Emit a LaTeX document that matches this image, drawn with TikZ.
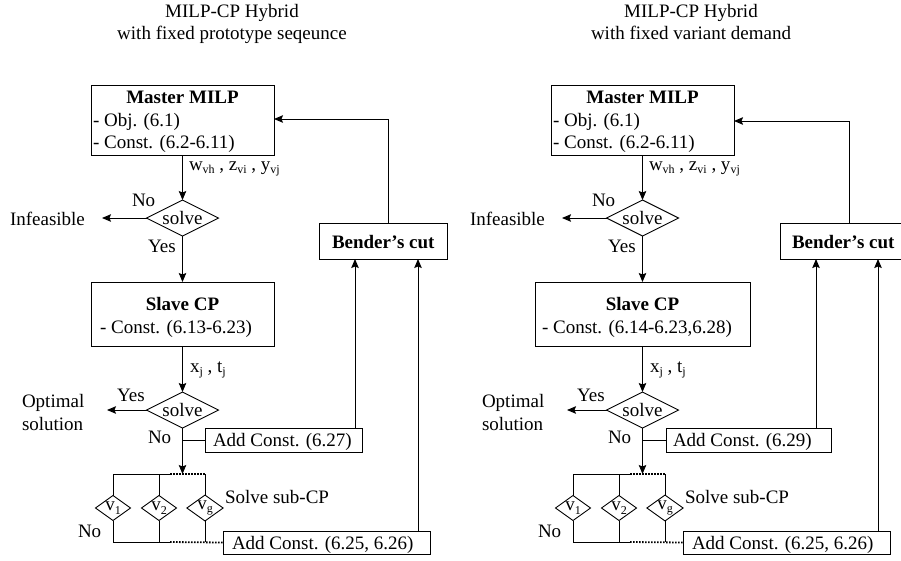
\documentclass[tikz,border=0pt]{standalone}
\usepackage{fontspec}
\setmainfont{Liberation Serif}
\usetikzlibrary{shapes.geometric,arrows.meta}
\newcommand\ff{\fontsize{19}{22}\selectfont}
\newcommand\subtx[1]{\raisebox{-3.5pt}{\fontsize{12}{12}\selectfont #1}}
\tikzset{
  bx/.style={draw, line width=0.9pt, inner sep=0pt, outer sep=0pt},
  dia/.style={draw, diamond, shape aspect=2, line width=0.9pt, inner sep=0pt, outer sep=0pt, minimum width=72pt, minimum height=36pt, font=\ff},
  sdia/.style={draw, diamond, shape aspect=1.4, line width=0.9pt, inner sep=0pt, outer sep=0pt, minimum width=35pt, minimum height=25pt, font=\ff},
  arr/.style={-{Stealth[length=9pt,width=7.5pt,inset=1.5pt]}, line width=0.9pt},
  ln/.style={line width=0.9pt},
  dt/.style={line width=1.8pt, dash pattern=on 1.6pt off 1.4pt},
  txt/.style={inner sep=0pt, outer sep=0pt, font=\ff},
  bold/.style={inner sep=0pt, outer sep=0pt, font=\ff\bfseries}
}
\begin{document}
\begin{tikzpicture}[x=1pt,y=-1pt]
\useasboundingbox (0,0) rectangle (901,560);
\clip (0,0) rectangle (901,560);
\fill[white] (0,0) rectangle (901,560);

% ================= LEFT PANEL =================
\node[txt, anchor=base] (t1L) at (232,17) {MILP-CP Hybrid};
\node[txt, anchor=base] (t2L) at (232,39) {with fixed prototype seqeunce};

\node[bx, minimum width=183pt, minimum height=70pt] (mL) at (182.5,120) {};
\node[bold, anchor=base] (mLa) at (182.5,103) {Master MILP};
\node[txt, anchor=base west] (mLb) at (93,126) {- Obj. (6.1)};
\node[txt, anchor=base west] (mLc) at (93,148) {- Const. (6.2-6.11)};

\node[dia] (d1L) at (182.5,218) {solve};
\draw[arr] (mL.south) -- (d1L.north);
\node[txt, anchor=base west] (wL) at (189,170) {w\subtx{vh} , z\subtx{vi} , y\subtx{vj}};
\node[txt, anchor=base west] (no1L) at (132,206) {No};
\node[txt, anchor=base west] (infL) at (10,225) {Infeasible};
\coordinate (ieL) at (102,218);
\draw[arr] (d1L.west) -- (ieL);
\node[txt, anchor=base west] (yes1L) at (148,252) {Yes};

\node[bx, minimum width=183pt, minimum height=64pt] (sL) at (182.5,314) {};
\node[bold, anchor=base] (sLa) at (182.5,310) {Slave CP};
\node[txt, anchor=base west] (sLb) at (100,333) {- Const. (6.13-6.23)};
\draw[arr] (d1L.south) -- (sL.north);

\node[dia] (d2L) at (182.5,410) {solve};
\draw[arr] (sL.south) -- (d2L.north);
\node[txt, anchor=base west] (xL) at (190,372) {x\subtx{j} , t\subtx{j}};
\node[txt, anchor=base west] (yes2L) at (117,401) {Yes};
\node[txt, anchor=base west] (op1L) at (22,407) {Optimal};
\node[txt, anchor=base west] (op2L) at (22,430) {solution};
\coordinate (oeL) at (107,410);
\draw[arr] (d2L.west) -- (oeL);
\node[txt, anchor=base west] (no2L) at (148,443) {No};

\node[bx, minimum width=157pt, minimum height=24pt] (a1L) at (283.5,440) {};
\node[txt, anchor=base west] (a1Lt) at (213,446) {Add Const. (6.27)};
\draw[ln] (d2L.south |- a1L.west) -- (a1L.west);
\coordinate (barL) at (182.5,474);
\draw[arr] (d2L.south) -- (barL);

\node[sdia] (v1L) at (113,508) {v\subtx{1}};
\node[sdia] (v2L) at (159,508) {v\subtx{2}};
\node[sdia] (v3L) at (205,508) {v\subtx{g}};
\coordinate (p1L) at (113,474); \coordinate (p2L) at (159,474);
\coordinate (p3L) at (205,474); \coordinate (pdL) at (170,474);
\coordinate (q1L) at (113,542); \coordinate (q2L) at (159,542);
\coordinate (q3L) at (205,542); \coordinate (qdL) at (170,542);
\draw[ln] (v1L.north) -- (p1L) -- (pdL);
\draw[dt] (pdL) -- (p3L);
\draw[ln] (v2L.north) -- (p2L);
\draw[ln] (v3L.north) -- (p3L);
\draw[ln] (v1L.south) -- (q1L) -- (qdL);
\draw[ln] (v2L.south) -- (q2L);
\draw[ln] (v3L.south) -- (q3L);
\node[txt, anchor=base west] (subL) at (225,503) {Solve sub-CP};
\node[txt, anchor=base west] (no3L) at (78,537) {No};

\node[bx, minimum width=207pt, minimum height=23pt] (a2L) at (326.5,542.5) {};
\node[txt, anchor=base west] (a2Lt) at (232,549) {Add Const. (6.25, 6.26)};
\draw[dt] (qdL) -- (a2L.west);

\node[bx, minimum width=128pt, minimum height=36pt] (bL) at (383,241) {};
\node[bold, anchor=base west] (bLt) at (332,248) {Bender's cut};
\coordinate (cL) at (388,119);
\draw[arr] (bL.north -| cL) -- (cL) -- (mL.east |- cL);
\coordinate (k1L) at (355,0); \coordinate (k2L) at (418,0);
\draw[arr] (a1L.north -| k1L) -- (bL.south -| k1L);
\draw[arr] (a2L.north -| k2L) -- (bL.south -| k2L);

% ================= RIGHT PANEL =================
\node[txt, anchor=base] (t1R) at (691,17) {MILP-CP Hybrid};
\node[txt, anchor=base] (t2R) at (691,39) {with fixed variant demand};

\node[bx, minimum width=183pt, minimum height=70pt] (mR) at (642.5,120) {};
\node[bold, anchor=base] (mRa) at (642.5,103) {Master MILP};
\node[txt, anchor=base west] (mRb) at (553,126) {- Obj. (6.1)};
\node[txt, anchor=base west] (mRc) at (553,148) {- Const. (6.2-6.11)};

\node[dia] (d1R) at (642.5,218) {solve};
\draw[arr] (mR.south) -- (d1R.north);
\node[txt, anchor=base west] (wR) at (649,170) {w\subtx{vh} , z\subtx{vi} , y\subtx{vj}};
\node[txt, anchor=base west] (no1R) at (592,206) {No};
\node[txt, anchor=base west] (infR) at (470,225) {Infeasible};
\coordinate (ieR) at (562,218);
\draw[arr] (d1R.west) -- (ieR);
\node[txt, anchor=base west] (yes1R) at (608,252) {Yes};

\node[bx, minimum width=215pt, minimum height=64pt] (sR) at (642.5,314) {};
\node[bold, anchor=base] (sRa) at (642.5,310) {Slave CP};
\node[txt, anchor=base west] (sRb) at (542,333) {- Const. (6.14-6.23,6.28)};
\draw[arr] (d1R.south) -- (sR.north);

\node[dia] (d2R) at (642.5,410) {solve};
\draw[arr] (sR.south) -- (d2R.north);
\node[txt, anchor=base west] (xR) at (650,372) {x\subtx{j} , t\subtx{j}};
\node[txt, anchor=base west] (yes2R) at (577,401) {Yes};
\node[txt, anchor=base west] (op1R) at (482,407) {Optimal};
\node[txt, anchor=base west] (op2R) at (482,430) {solution};
\coordinate (oeR) at (567,410);
\draw[arr] (d2R.west) -- (oeR);
\node[txt, anchor=base west] (no2R) at (608,443) {No};

\node[bx, minimum width=165pt, minimum height=24pt] (a1R) at (748.5,440) {};
\node[txt, anchor=base west] (a1Rt) at (673,446) {Add Const. (6.29)};
\draw[ln] (d2R.south |- a1R.west) -- (a1R.west);
\coordinate (barR) at (642.5,474);
\draw[arr] (d2R.south) -- (barR);

\node[sdia] (v1R) at (573,508) {v\subtx{1}};
\node[sdia] (v2R) at (619,508) {v\subtx{2}};
\node[sdia] (v3R) at (665,508) {v\subtx{g}};
\coordinate (p1R) at (573,474); \coordinate (p2R) at (619,474);
\coordinate (p3R) at (665,474); \coordinate (pdR) at (630,474);
\coordinate (q1R) at (573,542); \coordinate (q2R) at (619,542);
\coordinate (q3R) at (665,542); \coordinate (qdR) at (630,542);
\draw[ln] (v1R.north) -- (p1R) -- (pdR);
\draw[dt] (pdR) -- (p3R);
\draw[ln] (v2R.north) -- (p2R);
\draw[ln] (v3R.north) -- (p3R);
\draw[ln] (v1R.south) -- (q1R) -- (qdR);
\draw[ln] (v2R.south) -- (q2R);
\draw[ln] (v3R.south) -- (q3R);
\node[txt, anchor=base west] (subR) at (685,503) {Solve sub-CP};
\node[txt, anchor=base west] (no3R) at (538,537) {No};

\node[bx, minimum width=207pt, minimum height=23pt] (a2R) at (786.5,542.5) {};
\node[txt, anchor=base west] (a2Rt) at (692,549) {Add Const. (6.25, 6.26)};
\draw[dt] (qdR) -- (a2R.west);

\node[bx, minimum width=128pt, minimum height=36pt] (bR) at (844,241) {};
\node[bold, anchor=base west] (bRt) at (792,248) {Bender's cut};
\coordinate (cR) at (849,121);
\draw[arr] (bR.north -| cR) -- (cR) -- (mR.east |- cR);
\coordinate (k1R) at (816,0); \coordinate (k2R) at (878,0);
\draw[arr] (a1R.north -| k1R) -- (bR.south -| k1R);
\draw[arr] (a2R.north -| k2R) -- (bR.south -| k2R);
\end{tikzpicture}
\end{document}
